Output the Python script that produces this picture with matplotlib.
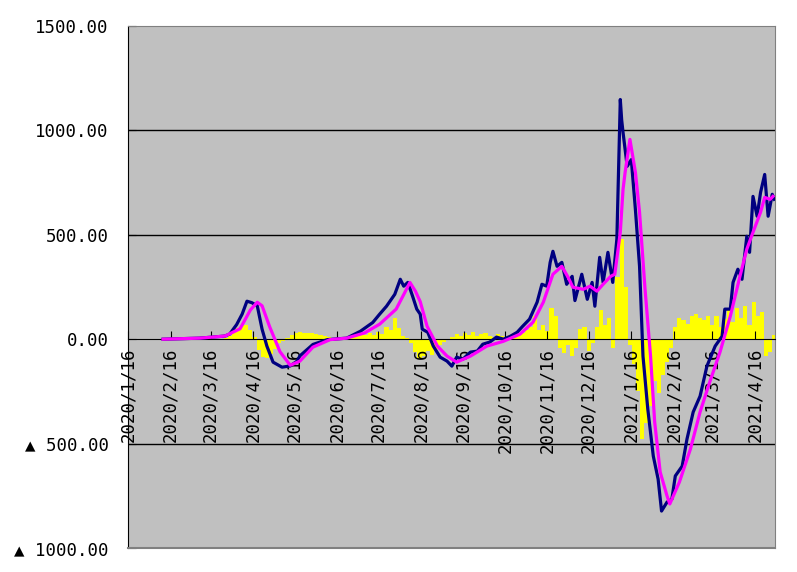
import numpy as np
import pandas as pd
import matplotlib
matplotlib.use("Agg")
import matplotlib.pyplot as plt
from matplotlib.ticker import FuncFormatter

plt.rcParams["font.family"] = ["DejaVu Sans Mono", "DejaVu Sans"]

START = pd.Timestamp("2020-01-16")

# navy line: day offset from START, value
navy_day = [25.5, 52, 70.5, 74, 79, 83, 86.5, 90, 94, 97.5, 101, 105.5, 112, 118, 123, 125,
            134.5, 145, 159, 169, 178, 183, 188, 194, 198, 200.5, 203.5, 207, 210, 212.5, 214,
            218, 222, 227, 232, 235.5, 239, 243.5, 249, 254, 258, 263, 268, 273, 278, 283, 287,
            292, 297.5, 301, 304.5, 307, 309, 312, 315.5, 319, 323, 325, 330, 334, 337.5, 339.5,
            343, 345.5, 349, 352.5, 355.5, 357, 358, 359, 360, 363, 366, 369, 372, 374.5, 378, 382,
            385.5, 388, 392, 395.5, 398, 403, 406.5, 411, 416, 421, 427, 432, 434, 438, 440,
            443.5, 446.5, 450, 452, 454.5, 457.5, 460, 463, 465.5, 468.5, 470]
navy_val = [0, 5, 15, 25, 70, 120, 182, 175, 160, 48, -33, -110, -134, -128, -105, -80,
            -25, -2, 5, 38, 80, 120, 158, 215, 287, 254, 272, 205, 144, 120, 48,
            33, -33, -86, -105, -129, -86, -96, -62, -57, -24, -14, 10, 0, 14, 33, 62,
            96, 177, 263, 254, 368, 421, 349, 368, 263, 301, 185, 311, 191, 272, 158,
            392, 272, 416, 272, 480, 880, 1148, 1050, 990, 828, 860, 620, 349, -81, -335, -560,
            -670, -823, -780, -766, -655, -608, -478, -349, -273, -129, -33, 14, 144, 144, 272,
            335, 287, 493, 416, 684, 589, 703, 789, 589, 694, 670]

# magenta line (smoothed)
mag_day = [25.5, 52, 70.5, 81.5, 89, 94, 97.5, 103, 110.5, 118, 125, 134.5, 147, 159, 172,
           183, 195, 201, 205, 209, 212.5, 217.5, 225, 232, 239, 249, 261, 273, 285, 294.5,
           302, 309, 315.5, 320, 323.5, 331, 336, 341, 345.5, 351, 354, 358, 360, 361.5, 365,
           369, 372, 376, 380, 383, 387, 392, 394, 401, 409, 416, 423, 430.5, 438, 445, 450,
           454.5, 460, 463, 467, 469]
mag_val = [0, 5, 15, 50, 140, 177, 160, 60, -60, -125, -105, -38, -2, 5, 30,
           72, 144, 220, 272, 230, 180, 62, -33, -81, -110, -81, -33, -10, 24, 81,
           177, 311, 349, 297, 249, 239, 254, 230, 263, 301, 311, 512, 718, 799, 957,
           799, 608, 239, -81, -397, -636, -751, -789, -684, -526, -349, -206, -62, 110, 301, 431,
           512, 608, 679, 670, 684]

# yellow bars, one value per 3-day bin
bar_day = np.arange(71, 471, 3)
bar_val = [5, 15, 35, 55, 65, 70, 45, 10, -50, -85, -90, -70, -45, -20, -10, 5,
           20, 30, 35, 30, 28, 30, 25, 20, 15, 10, 8, 5, 5, 8, 10, 12,
           15, 25, 20, 30, 20, 35, 25, 60, 45, 100, 55, 15, 5, -20, -60, -95,
           -80, -55, -75, -45, -30, -15, -5, 10, 25, 15, 30, 20, 35, 15, 25, 30,
           15, 10, 25, 15, 10, 20, 30, 20, 30, 45, 60, 110, 45, 70, 40, 150,
           110, -40, -65, -30, -80, -40, 50, 60, -55, -20, 60, 140, 70, 100, -40, 300,
           480, 250, -30, -120, -250, -480, -400, -320, -200, -260, -170, -110, -40, 60, 100, 90,
           75, 110, 120, 100, 90, 110, 70, 110, 60, 95, 140, 80, 150, 100, 160, 70,
           180, 110, 130, -80, -60, 20]

tick_dates = pd.date_range("2020-01-01", "2021-04-01", freq="MS") + pd.Timedelta(days=15)


def fmt_y(v, pos):
    if v < 0:
        return f"▲ {abs(v):.2f}"
    return f"{v:.2f}"


def main() -> None:
    fig = plt.figure(figsize=(7.97, 5.72), dpi=100)
    ax = fig.add_axes([128 / 797, 24 / 572, 647 / 797, 522 / 572])
    ax.set_facecolor("#C0C0C0")

    # the x axis crosses at zero; move the spine before styling ticks
    ax.spines["bottom"].set_position(("data", 0))
    ax.spines["bottom"].set_color("black")
    ax.spines["left"].set_color("black")
    for side in ("top", "right"):
        ax.spines[side].set_color("#808080")
    ax.axhline(-1000, color="#808080", lw=1.5, clip_on=False, zorder=5)

    ax.bar(bar_day, bar_val, width=3, color="#FFFF00", linewidth=0, zorder=1)
    ax.plot(navy_day, navy_val, color="#000080", lw=2.3, zorder=3)
    ax.plot(mag_day, mag_val, color="#FF00FF", lw=2.3, zorder=4)

    for yv in (1000, 500, -500):
        ax.axhline(yv, color="black", lw=1, zorder=0.5)

    ax.set_xlim(0, 470.5)
    ax.set_ylim(-1000, 1500)
    ax.set_yticks(np.arange(-1000, 1501, 500))
    ax.yaxis.set_major_formatter(FuncFormatter(fmt_y))

    tick_pos = [(d - START).days for d in tick_dates]
    ax.set_xticks(tick_pos)
    ax.set_xticklabels([f"{d.year}/{d.month}/{d.day}" for d in tick_dates])

    ax.tick_params(axis="y", direction="in", length=6, pad=14, labelsize=12.5)
    ax.tick_params(axis="x", direction="in", length=6, pad=6, labelsize=12.5,
                   labelrotation=90)

    fig.savefig("out.png", dpi=100)


if __name__ == "__main__":
    main()
